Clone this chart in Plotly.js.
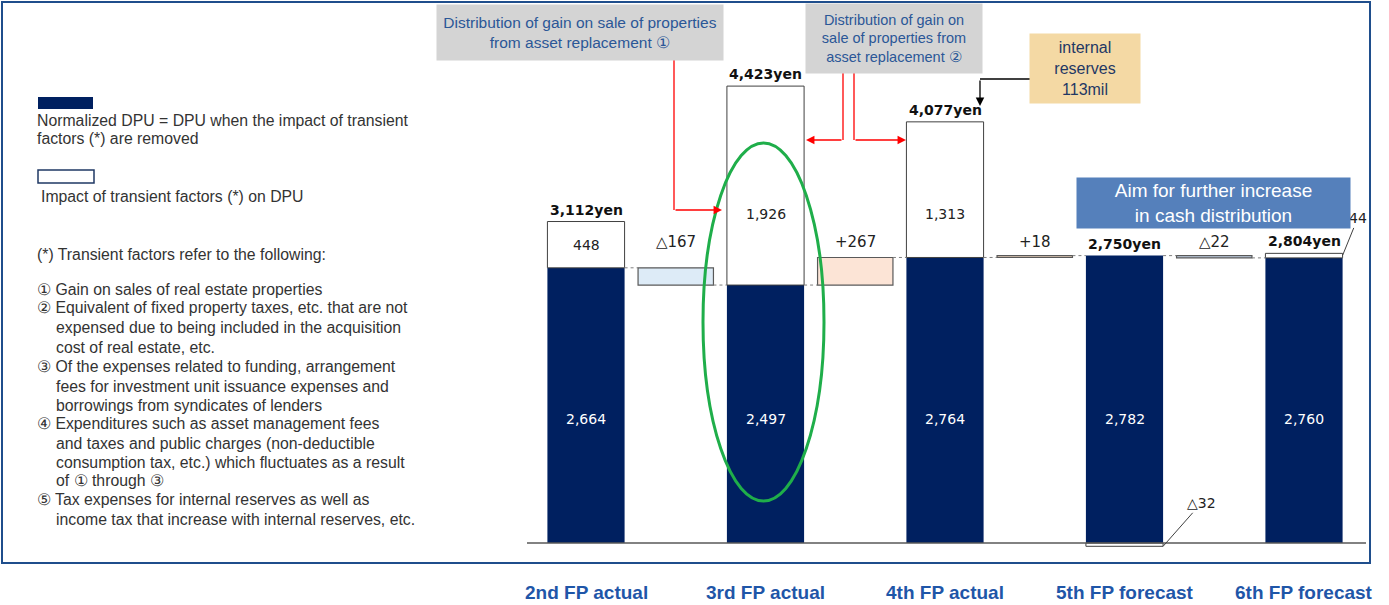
<!DOCTYPE html>
<html><head><meta charset="utf-8">
<script src="https://cdn.plot.ly/plotly-3.0.1.min.js"></script>
<style>html,body{margin:0;padding:0;background:#fff}#chart{width:1389px;height:605px}</style>
</head><body><div id="chart"></div>
<script>
// ---------- data ----------
const categories = ['2nd FP actual', '3rd FP actual', '4th FP actual', '5th FP forecast', '6th FP forecast'];
const normalized = [2664, 2497, 2764, 2782, 2760];
const transient = [448, 1926, 1313, -32, 44];
const totals = [3112, 4423, 4077, 2750, 2804];
const deltas = [-167, 267, 18, -22];
const deltaColors = ['#ddebf7', '#fce4d6', '#e3cdb9', '#c5d3e6'];

const legendLines = [
  ['Normalized DPU = DPU when the impact of transient', 35, 120],
  ['factors (*) are removed', 35, 139],
  ['Impact of transient factors (*) on DPU', 39, 196],
  ['(*) Transient factors refer to the following:', 35, 254],
  ['① Gain on sales of real estate properties', 35, 289],
  ['② Equivalent of fixed property taxes, etc. that are not', 35, 308],
  ['expensed due to being included in the acquisition', 54, 328],
  ['cost of real estate, etc.', 54, 347],
  ['③ Of the expenses related to funding, arrangement', 35, 366],
  ['fees for investment unit issuance expenses and', 54, 386],
  ['borrowings from syndicates of lenders', 54, 405],
  ['④ Expenditures such as asset management fees', 35, 423],
  ['and taxes and public charges (non-deductible', 54, 443],
  ['consumption tax, etc.) which fluctuates as a result', 54, 462],
  ['of ① through ③', 54, 480],
  ['⑤ Tax expenses for internal reserves as well as', 35, 499],
  ['income tax that increase with internal reserves, etc.', 54, 519]
];

// ---------- geometry helpers ----------
const W = 1389, H = 605;
const PX0 = 586, PXSTEP = 89.75, BASEPX = 543, K = 0.1033;
const xr = [-PX0 / PXSTEP, (W - PX0) / PXSTEP];
const yr = [-(H - BASEPX) / K, BASEPX / K];
const px = x => x / W, py = y => 1 - y / H;
const fmt = v => Math.abs(v).toLocaleString('en-US');
const mainX = categories.map((_, i) => 2 * i);
const deltaX = deltas.map((_, i) => 2 * i + 1);
const MW = 0.86, DW = 0.84;

const ARIAL = 'Liberation Sans, Arial, sans-serif';
const VERD = 'DejaVu Sans, Verdana, sans-serif';
const NARROW = 'Liberation Sans Narrow, Arial Narrow, Liberation Sans, sans-serif';

const traces = [
  {type: 'bar', x: mainX, y: normalized, base: normalized.map(() => 0), width: MW,
   marker: {color: '#002060', line: {width: 0}}, hoverinfo: 'skip'},
  {type: 'bar', x: mainX, y: transient, base: transient.map((v, i) => v < 0 ? 0 : normalized[i]), width: MW,
   marker: {color: '#ffffff', line: {color: '#404040', width: 1}}, hoverinfo: 'skip'},
  {type: 'bar', x: deltaX, y: deltas, base: normalized.slice(0, deltas.length), width: DW,
   marker: {color: deltaColors, line: {color: '#595959', width: 1.2}}, hoverinfo: 'skip'}
];

const ann = [];
const shapes = [];

// totals
totals.forEach((t, i) => {
  const top = Math.max(normalized[i], normalized[i] + transient[i]);
  ann.push({x: mainX[i], y: top, xref: 'x', yref: 'y', text: '<b>' + fmt(t) + 'yen</b>', showarrow: false,
    xanchor: 'center', yanchor: 'middle', yshift: 12, font: {family: VERD, size: 14, color: '#111'}});
});
// normalized labels
const normLabelY = Math.min(...normalized) * 0.48;
normalized.forEach((v, i) => {
  ann.push({x: mainX[i], y: normLabelY, xref: 'x', yref: 'y', text: fmt(v), showarrow: false,
    xanchor: 'center', yanchor: 'middle', font: {family: VERD, size: 14, color: '#ffffff'}});
});
// transient labels
const bigLabelY = Math.max(...normalized) + 400;
transient.forEach((v, i) => {
  if (Math.abs(v) >= 100) {
    const y = v > 1000 ? bigLabelY : normalized[i] + v / 2;
    ann.push({x: mainX[i], y: y, xref: 'x', yref: 'y', text: fmt(v), showarrow: false,
      xanchor: 'center', yanchor: 'middle', font: {family: VERD, size: 14, color: '#222'}});
  } else {
    const isNeg = v < 0;
    ann.push({x: mainX[i] + MW / 2, y: isNeg ? v : normalized[i] + v - 20, xref: 'x', yref: 'y',
      text: (isNeg ? '△' : '') + fmt(v), showarrow: true, arrowhead: 0, arrowwidth: 1, arrowcolor: '#404040',
      ax: isNeg ? 38 : 15, ay: isNeg ? -43 : -37, standoff: 0,
      font: {family: VERD, size: 14, color: '#222'}});
  }
});
// delta labels
const deltaLabelY = Math.max(...normalized) + 130;
deltas.forEach((d, i) => {
  ann.push({x: deltaX[i], y: deltaLabelY, xref: 'x', yref: 'y', text: (d < 0 ? '△' : '+') + fmt(d), showarrow: false,
    xanchor: 'center', yanchor: 'middle', font: {family: VERD, size: 15, color: '#222'}});
});
// connectors
deltas.forEach((d, i) => {
  shapes.push({type: 'line', xref: 'x', yref: 'y', x0: mainX[i] + MW / 2, x1: deltaX[i] - DW / 2,
    y0: normalized[i], y1: normalized[i], line: {color: '#7f7f7f', width: 1, dash: 'dot'}});
  shapes.push({type: 'line', xref: 'x', yref: 'y', x0: deltaX[i] + DW / 2, x1: mainX[i + 1] - MW / 2,
    y0: normalized[i + 1], y1: normalized[i + 1], line: {color: '#7f7f7f', width: 1, dash: 'dot'}});
});
// baseline
shapes.push({type: 'line', xref: 'paper', yref: 'y', x0: px(527), x1: px(1366), y0: 0, y1: 0,
  line: {color: '#595959', width: 1.5}});
// frame
shapes.push({type: 'rect', xref: 'paper', yref: 'paper', x0: px(2), x1: px(1370), y0: py(563), y1: py(2),
  line: {color: '#1f4e8c', width: 2}});
// legend swatches
shapes.push({type: 'rect', xref: 'paper', yref: 'paper', x0: px(38), x1: px(93), y0: py(109), y1: py(97),
  fillcolor: '#002060', line: {width: 0}});
shapes.push({type: 'rect', xref: 'paper', yref: 'paper', x0: px(38), x1: px(94), y0: py(183), y1: py(170),
  fillcolor: '#ffffff', line: {color: '#1f3864', width: 1.5}});
// green ellipse
shapes.push({type: 'circle', xref: 'paper', yref: 'paper', x0: px(703), x1: px(824), y0: py(501), y1: py(143),
  line: {color: '#1fae4a', width: 3}});
// callout lines
const vline = (x, y0, y1, c) => shapes.push({type: 'line', xref: 'paper', yref: 'paper', x0: px(x), x1: px(x),
  y0: py(y0), y1: py(y1), line: {color: c, width: 1.3}});
const hline = (x0, x1, y, c) => shapes.push({type: 'line', xref: 'paper', yref: 'paper', x0: px(x0), x1: px(x1),
  y0: py(y), y1: py(y), line: {color: c, width: 1.3}});
vline(674, 60, 210, '#ff0000');
vline(843, 73, 140, '#ff0000');
vline(854, 73, 140, '#ff0000');
hline(1030, 980, 79, '#000000');
const arrow = (x, y, ax, ay, c) => ann.push({x: px(x), y: py(y), xref: 'paper', yref: 'paper', text: '',
  showarrow: true, arrowhead: 2, arrowsize: 1.3, arrowwidth: 1.3, arrowcolor: c, ax: ax, ay: ay, standoff: 0});
arrow(722, 210, -48, 0, '#ff0000');
arrow(806, 140, 37, 0, '#ff0000');
arrow(906, 140, -52, 0, '#ff0000');
arrow(980, 106, 0, -27, '#000000');

// callout boxes
const box = (cx, cy, w, h, text, bg, color, family, size) => ann.push({x: px(cx), y: py(cy), xref: 'paper', yref: 'paper',
  xanchor: 'center', yanchor: 'middle',
  text: text, showarrow: false, width: w, height: h, bgcolor: bg, borderpad: 0, align: 'center', valign: 'middle',
  font: {family: family, size: size, color: color}});
box(580, 32.5, 286, 55, 'Distribution of gain on sale of properties<br>from asset replacement ①', '#d4d4d4', '#2b5797', ARIAL, 15.5);
box(894, 38.5, 176, 69, 'Distribution of gain on<br>sale of properties from<br>asset replacement ②', '#d4d4d4', '#2b5797', ARIAL, 14.5);
box(1085, 68.5, 110, 69, 'internal<br>reserves<br>113mil', '#f4d9a4', '#1f3864', ARIAL, 16);
box(1213, 203, 273, 50, 'Aim for further increase<br>in cash distribution', '#5580bb', '#ffffff', ARIAL, 19);

// legend text
legendLines.forEach(([t, x, y]) => ann.push({x: px(x), y: py(y), xref: 'paper', yref: 'paper', text: t,
  showarrow: false, xanchor: 'left', yanchor: 'middle', font: {family: ARIAL, size: 15.8, color: '#333333'}}));

// category labels
categories.forEach((c, i) => ann.push({x: mainX[i], y: py(592), xref: 'x', yref: 'paper', text: '<b>' + c + '</b>',
  showarrow: false, xanchor: 'center', yanchor: 'middle', font: {family: ARIAL, size: 19, color: '#1f56a8'}}));

const layout = {
  width: W, height: H, margin: {l: 0, r: 0, t: 0, b: 0}, showlegend: false,
  paper_bgcolor: '#ffffff', plot_bgcolor: '#ffffff', barmode: 'overlay',
  xaxis: {range: xr, visible: false, fixedrange: true},
  yaxis: {range: yr, visible: false, fixedrange: true},
  annotations: ann, shapes: shapes
};
Plotly.newPlot('chart', traces, layout, {staticPlot: true, displayModeBar: false});
</script></body></html>
